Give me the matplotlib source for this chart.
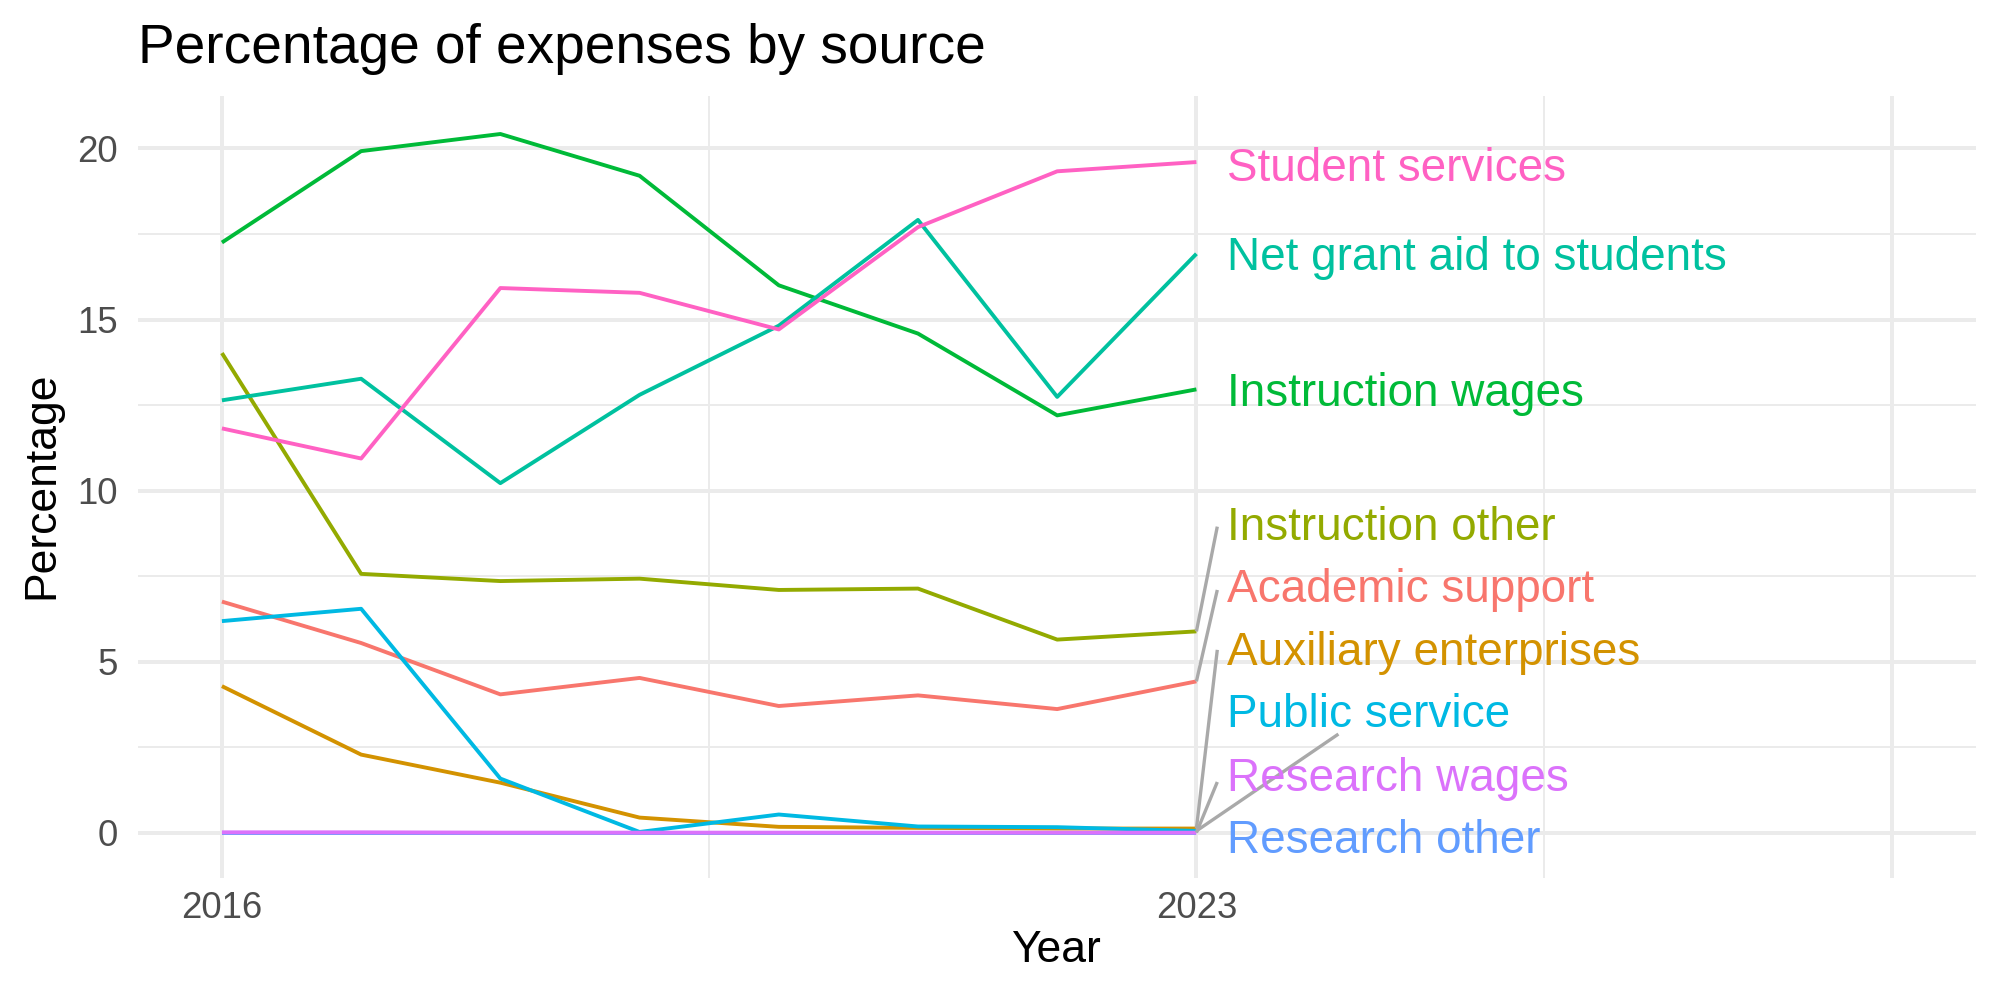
import matplotlib
matplotlib.use('Agg')
import matplotlib.pyplot as plt
import numpy as np

plt.rcParams['font.family'] = ['Liberation Sans', 'DejaVu Sans']

years = [2016, 2017, 2018, 2019, 2020, 2021, 2022, 2023]

# alphabetical order, same as ggplot's default group order
sources = ['Academic support', 'Auxiliary enterprises', 'Instruction other',
           'Instruction wages', 'Net grant aid to students', 'Public service',
           'Research other', 'Research wages', 'Student services']
colors = ['#F8766D', '#D39200', '#93AA00', '#00BA38', '#00C19F', '#00B9E3',
          '#619CFF', '#DB72FB', '#FF61C3']

academic_support = [6.76, 5.55, 4.05, 4.53, 3.71, 4.02, 3.62, 4.43]
auxiliary = [4.29, 2.29, 1.47, 0.45, 0.18, 0.15, 0.13, 0.13]
instruction_other = [14.02, 7.57, 7.36, 7.43, 7.10, 7.14, 5.65, 5.89]
instruction_wages = [17.25, 19.92, 20.42, 19.20, 16.00, 14.59, 12.20, 12.96]
net_grant_aid = [12.64, 13.27, 10.22, 12.80, 14.82, 17.91, 12.74, 16.92]
public_service = [6.19, 6.55, 1.59, 0.03, 0.54, 0.19, 0.17, 0.06]
research_other = [0.0, 0.0, 0.0, 0.0, 0.0, 0.0, 0.0, 0.0]
research_wages = [0.02, 0.02, 0.01, 0.01, 0.01, 0.01, 0.01, 0.01]
student_services = [11.82, 10.94, 15.92, 15.78, 14.71, 17.70, 19.33, 19.60]

series = [academic_support, auxiliary, instruction_other, instruction_wages,
          net_grant_aid, public_service, research_other, research_wages,
          student_services]

# repelled label positions (from the reference) and where each leader line ends
label_x = 2023.22
label_y = [7.25, 5.40, 9.05, 12.96, 16.95, 3.58, -0.10, 1.73, 19.55]
seg_end = [(2023.15, 7.10), (2023.15, 5.35), (2023.15, 8.95), None, None,
           (2024.02, 2.89), None, (2023.15, 1.49), None]

fig = plt.figure(figsize=(10, 5), dpi=200)
ax = fig.add_axes([0.0692, 0.1225, 0.9188, 0.7815])

for i, (name, vals, col) in enumerate(zip(sources, series, colors)):
    ax.plot(years, vals, color=col, lw=1.4, zorder=3 + i * 0.01,
            solid_capstyle='butt')

for name, vals, col, ly, se in zip(sources, series, colors, label_y, seg_end):
    if se is not None:
        ax.plot([years[-1], se[0]], [vals[-1], se[1]], color='#A9A9A9',
                lw=1.2, zorder=4, solid_capstyle='butt')
    ax.text(label_x, ly, name, color=col, fontsize=16.5,
            va='center_baseline', ha='left', zorder=5)

ax.set_xlim(2015.4, 2028.6)
ax.set_ylim(-1.30, 21.53)
ax.set_xticks([2016, 2023, 2028])
ax.set_xticklabels(['2016', '2023', ''])
ax.set_xticks([2019.5, 2025.5], minor=True)
ax.set_yticks([0, 5, 10, 15, 20])
ax.set_yticks([2.5, 7.5, 12.5, 17.5], minor=True)
ax.grid(which='major', color='#EBEBEB', lw=1.42)
ax.grid(which='minor', color='#EBEBEB', lw=0.71)
ax.set_axisbelow(True)
for s in ax.spines.values():
    s.set_visible(False)
ax.tick_params(which='both', length=0, labelsize=13.2, labelcolor='#4D4D4D')
ax.tick_params(axis='y', pad=7.5)
ax.tick_params(axis='x', pad=5)

fig.text(0.0692, 0.937, 'Percentage of expenses by source', fontsize=19.8,
         ha='left', va='baseline', color='black')
fig.text(0.528, 0.05, 'Year', fontsize=16, ha='center', va='center')
fig.text(0.021, 0.515, 'Percentage', fontsize=16, ha='center', va='center',
         rotation=90)

fig.savefig('out.png', dpi=200)
